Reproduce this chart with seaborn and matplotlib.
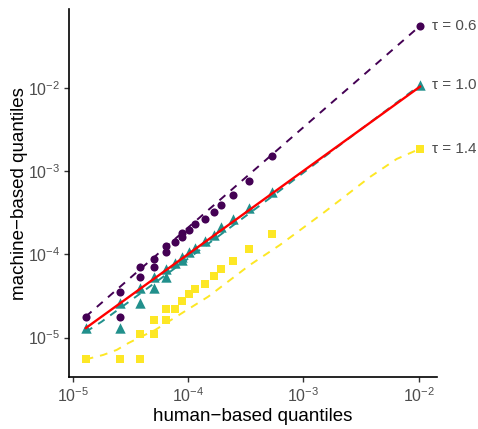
import numpy as np
import pandas as pd
import matplotlib
matplotlib.use("Agg")
import matplotlib.pyplot as plt
import seaborn as sns

# ---- data ----
human_q = [1.296e-5, 2.572e-5, 2.572e-5, 3.835e-5, 3.835e-5, 5.10e-5, 5.10e-5,
           6.45e-5, 6.45e-5, 7.71e-5, 8.92e-5, 8.92e-5, 1.026e-4, 1.150e-4,
           1.404e-4, 1.680e-4, 1.944e-4, 2.442e-4, 3.362e-4, 5.35e-4, 1.034e-2]
machine_tau06 = [1.78e-5, 1.78e-5, 3.56e-5, 5.30e-5, 7.10e-5, 7.10e-5, 8.79e-5,
                 1.066e-4, 1.259e-4, 1.416e-4, 1.626e-4, 1.786e-4, 1.958e-4, 2.31e-4,
                 2.65e-4, 3.19e-4, 3.91e-4, 5.19e-4, 7.59e-4, 1.514e-3, 5.55e-2]
machine_tau10 = [1.315e-5, 1.315e-5, 2.62e-5, 2.62e-5, 3.97e-5, 3.97e-5, 5.30e-5,
                 5.30e-5, 6.61e-5, 7.87e-5, 8.55e-5, 9.35e-5, 1.075e-4, 1.19e-4,
                 1.445e-4, 1.705e-4, 2.11e-4, 2.63e-4, 3.57e-4, 5.65e-4, 1.076e-2]
machine_tau14 = [5.49e-6, 5.49e-6, 5.49e-6, 5.49e-6, 1.104e-5, 1.104e-5, 1.626e-5,
                 1.626e-5, 2.19e-5, 2.19e-5, 2.75e-5, 2.75e-5, 3.34e-5, 3.80e-5,
                 4.37e-5, 5.45e-5, 6.61e-5, 8.24e-5, 1.158e-4, 1.738e-4, 1.853e-3]

# fitted (dashed) curves
fit06_x = [1.296e-5, 5.35e-4, 1.034e-2]
fit06_y = [1.78e-5, 1.57e-3, 5.55e-2]
fit10_x = [1.296e-5, 1.786e-5, 3.835e-5, 1.271e-4, 5.36e-4, 2.08e-3, 1.034e-2]
fit10_y = [1.167e-5, 1.552e-5, 3.36e-5, 1.127e-4, 4.94e-4, 2.05e-3, 1.076e-2]
fit14_x = [1.296e-5, 1.84e-5, 2.41e-5, 3.03e-5, 3.96e-5, 5.18e-5, 6.75e-5, 1.50e-4,
           3.45e-4, 6.28e-4, 1.49e-3, 2.38e-3, 3.79e-3, 6.46e-3, 1.034e-2]
fit14_y = [5.46e-6, 6.18e-6, 7.10e-6, 8.55e-6, 1.03e-5, 1.23e-5, 1.55e-5, 3.10e-5,
           7.45e-5, 1.294e-4, 3.13e-4, 5.15e-4, 8.47e-4, 1.393e-3, 1.853e-3]

tau_labels = ["\u03c4 = 0.6", "\u03c4 = 1.0", "\u03c4 = 1.4"]
colors = ["#440154", "#21908C", "#FDE725"]
markers = ["o", "^", "s"]
marker_sizes = [34, 56, 27]

x_ticks = [1e-5, 1e-4, 1e-3, 1e-2]
x_tick_labels = [r"$10^{-5}$", r"$10^{-4}$", r"$10^{-3}$", r"$10^{-2}$"]
y_ticks = [1e-5, 1e-4, 1e-3, 1e-2]
y_tick_labels = [r"$10^{-5}$", r"$10^{-4}$", r"$10^{-3}$", r"$10^{-2}$"]

# ---- style ----
sns.set_theme(style="ticks")
plt.rcParams["font.family"] = ["Liberation Sans", "DejaVu Sans"]
plt.rcParams["mathtext.fontset"] = "custom"
plt.rcParams["mathtext.rm"] = "Liberation Sans"
plt.rcParams["mathtext.it"] = "Liberation Sans:italic"
plt.rcParams["mathtext.bf"] = "Liberation Sans:bold"

fig = plt.figure(figsize=(4.78, 4.29), dpi=100)
ax = fig.add_axes([69 / 478, 1 - 377.3 / 429, (436.7 - 69) / 478, (377.3 - 9.3) / 429])

machine = [machine_tau06, machine_tau10, machine_tau14]
fits = [(fit06_x, fit06_y), (fit10_x, fit10_y), (fit14_x, fit14_y)]

for lab, col, mk, ms, my in zip(tau_labels, colors, markers, marker_sizes, machine):
    df = pd.DataFrame({"human": human_q, "machine": my})
    sns.scatterplot(data=df, x="human", y="machine", color=col, marker=mk, s=ms,
                    linewidth=0, ax=ax, zorder=3)

for col, (fx, fy) in zip(colors, fits):
    dfl = pd.DataFrame({"human": fx, "machine": fy})
    sns.lineplot(data=dfl, x="human", y="machine", color=col, lw=1.4,
                 linestyle=(0, (4, 3.6)), estimator=None, sort=False, ax=ax, zorder=4)

# identity reference line
lo, hi = min(human_q), max(human_q)
dfi = pd.DataFrame({"human": [lo, hi], "machine": [lo, hi]})
sns.lineplot(data=dfi, x="human", y="machine", color="#FF0000", lw=1.7,
             estimator=None, sort=False, ax=ax, zorder=5)

# tau labels at the last point of each series
for lab, my in zip(tau_labels, machine):
    ax.text(human_q[-1] * 1.27, my[-1], lab, ha="left", va="center",
            fontsize=11, color="#4D4D4D", clip_on=False)

ax.set_xscale("log")
ax.set_yscale("log")
ax.set_xlim(9.29e-6, 1.436e-2)
ax.set_ylim(3.33e-6, 8.73e-2)
ax.set_xticks(x_ticks)
ax.set_xticklabels(x_tick_labels)
ax.set_yticks(y_ticks)
ax.set_yticklabels(y_tick_labels)
ax.minorticks_off()
ax.tick_params(axis="both", which="major", length=3.5, width=1.0, color="#333333",
               labelcolor="#4D4D4D", labelsize=11.5, pad=3)

for s in ["top", "right"]:
    ax.spines[s].set_visible(False)
for s in ["left", "bottom"]:
    ax.spines[s].set_linewidth(1.2)
    ax.spines[s].set_color("black")

ax.set_xlabel("human\u2212based quantiles", fontsize=13.5, color="black", labelpad=2)
ax.set_ylabel("machine\u2212based quantiles", fontsize=13.5, color="black", labelpad=0)
if ax.get_legend() is not None:
    ax.get_legend().remove()

fig.savefig("out.png", dpi=100)
